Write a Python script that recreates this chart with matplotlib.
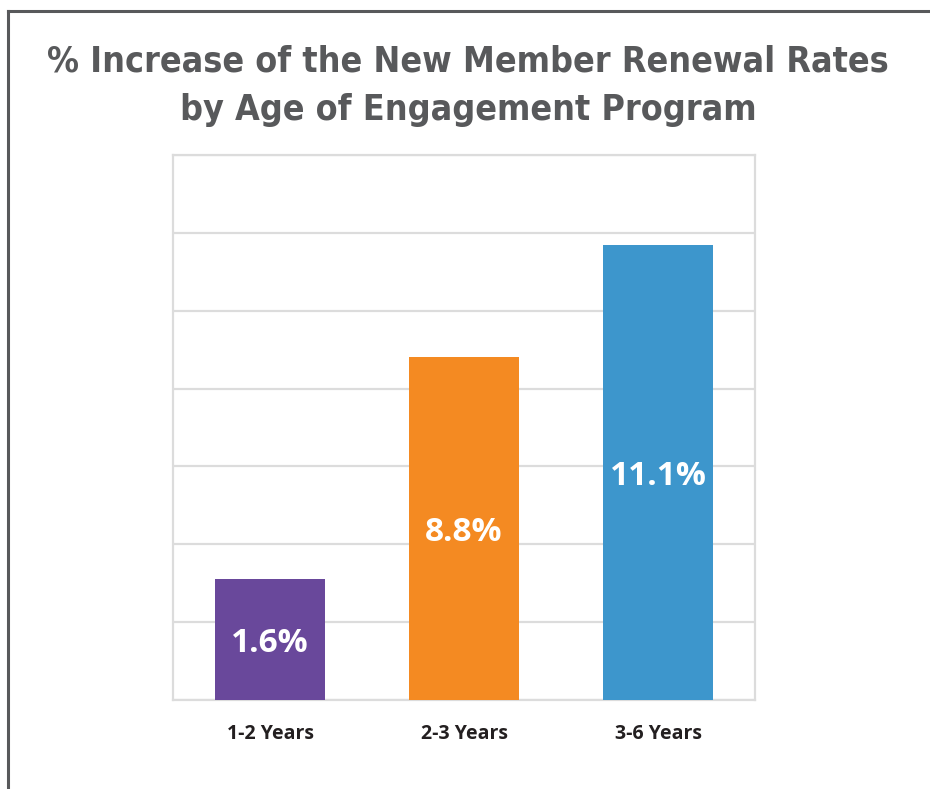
import matplotlib
matplotlib.use("Agg")
import matplotlib.pyplot as plt
from matplotlib.lines import Line2D

categories = ["1-2 Years", "2-3 Years", "3-6 Years"]
label_values = [1.6, 8.8, 11.1]        # values printed on the bars (%)
bar_heights = [3.1, 8.8, 11.7]         # bar heights as drawn in the picture (axis in %)
colors = ["#69489b", "#f48a22", "#3d96cc"]
title_lines = ["% Increase of the New Member Renewal Rates",
               "by Age of Engagement Program"]

W, H = 930, 789
fig = plt.figure(figsize=(W / 100, H / 100), dpi=100)
fig.patch.set_facecolor("white")

ax = fig.add_axes([173 / W, 1 - 700 / H, (755 - 173) / W, (700 - 155) / H])
x = list(range(len(categories)))
ax.bar(x, bar_heights, width=0.572, color=colors, zorder=3)
ax.set_xlim(-0.5, 2.5)
ax.set_ylim(0, 14)
ax.set_yticks(range(0, 15, 2))
ax.yaxis.grid(True, color="#dcdcdc", linewidth=1.6, zorder=0)
ax.tick_params(axis="y", left=False, labelleft=False)
ax.tick_params(axis="x", bottom=False, pad=14)
ax.set_xticks(x)
ax.set_xticklabels(categories, fontsize=14, fontweight="bold", color="#231f20",
                   family=["Open Sans", "DejaVu Sans"])
for s in ax.spines.values():
    s.set_color("#dcdcdc")
    s.set_linewidth(1.6)

for xi, h, v in zip(x, bar_heights, label_values):
    ax.text(xi, h / 2 - 0.1, f"{v:.1f}%", ha="center", va="center", color="white",
            fontsize=24, fontweight="bold", family=["Open Sans", "DejaVu Sans"], zorder=4)

title_kw = dict(ha="center", va="baseline", fontsize=28, fontweight="bold",
                color="#58595b", family=["DejaVu Sans"], fontstretch="condensed")
t1 = fig.text(468 / W, 1 - 71 / H, title_lines[0], **title_kw)
t2 = fig.text(468 / W, 1 - 120 / H, title_lines[1], **title_kw)

# shrink title to the reference's width if the font is wider
fig.canvas.draw()
r = fig.canvas.get_renderer()
w1 = t1.get_window_extent(r).width
scale = min(1.0, 843 / w1)
t1.set_fontsize(28 * scale)
t2.set_fontsize(28 * scale)

# outer frame (top and left edges)
fig.add_artist(Line2D([8 / W, 1], [1 - 10.5 / H, 1 - 10.5 / H], color="#58595b",
                      linewidth=2.2, transform=fig.transFigure))
fig.add_artist(Line2D([8 / W, 8 / W], [0, 1 - 10.5 / H], color="#58595b",
                      linewidth=2.2, transform=fig.transFigure))

fig.savefig("out.png", dpi=100, facecolor="white")
